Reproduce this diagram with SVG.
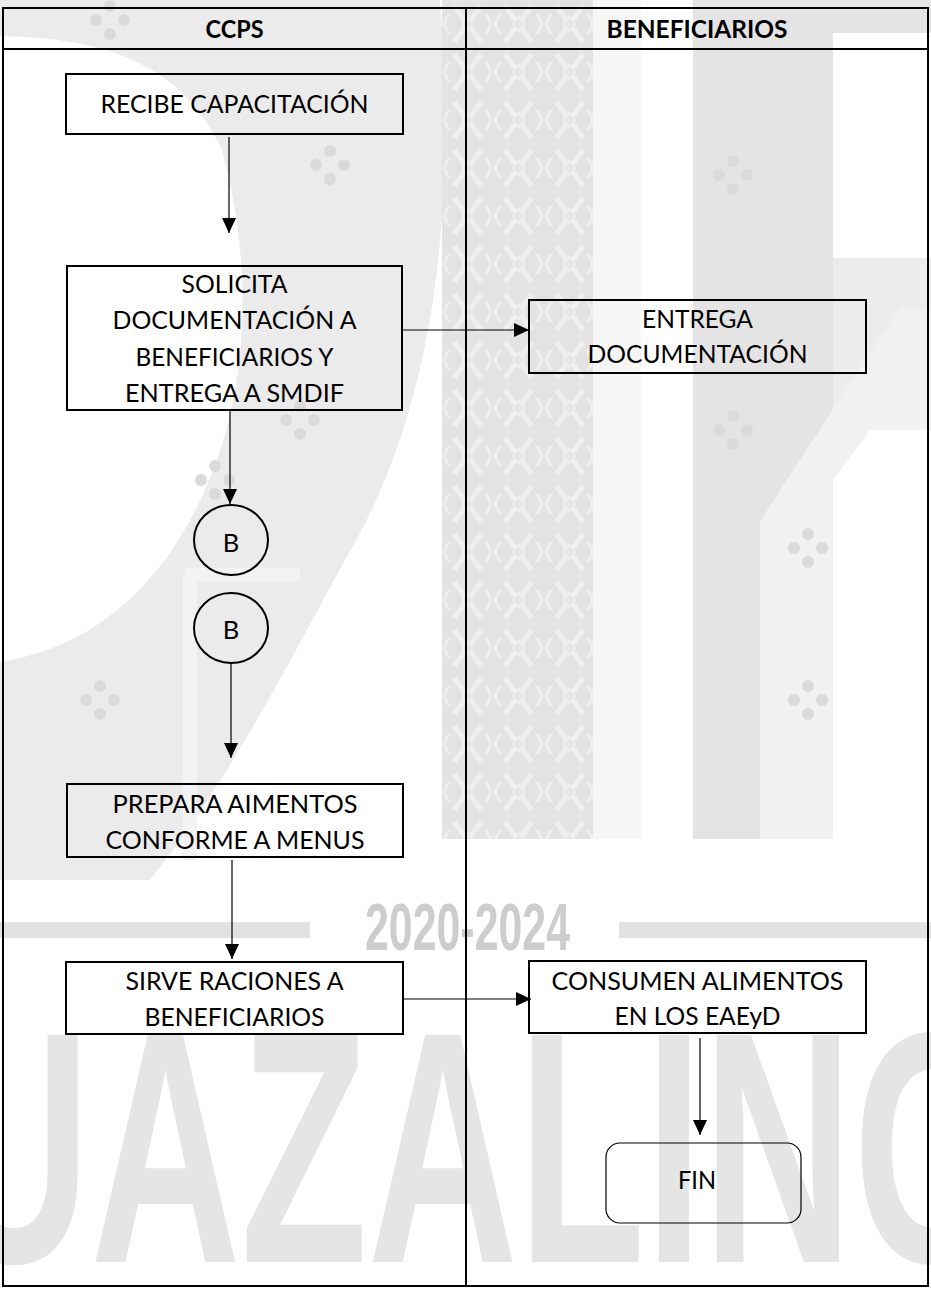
<svg xmlns="http://www.w3.org/2000/svg" width="931" height="1290" viewBox="0 0 931 1290">
<style>
.box{fill:none;stroke:#000;stroke-width:2}
.lbl{font-family:Lato,"Open Sans","Liberation Sans",sans-serif;font-size:25.5px;fill:#000;text-anchor:middle}
.hdr{font-family:Lato,"Open Sans","Liberation Sans",sans-serif;font-size:25px;font-weight:bold;fill:#000;text-anchor:middle}
.conn{stroke:#000;stroke-width:1.2;fill:none}
.wm{fill:#e6e6e6}
.dot{fill:#dadada}
</style>
<defs>
<marker id="ah" viewBox="0 0 15 14" refX="15" refY="7" markerWidth="15" markerHeight="14" markerUnits="userSpaceOnUse" orient="auto">
<path d="M0,0 L15,7 L0,14 Z" fill="#000"/>
</marker>
<pattern id="weave" x="442" y="0" width="51" height="48" patternUnits="userSpaceOnUse">
<rect width="51" height="48" fill="#e3e3e3"/>
<path d="M12,6 L39,42 M39,6 L12,42" stroke="#efefef" stroke-width="5" fill="none"/>
<path d="M25.5,17 L31,24 L25.5,31 L20,24 Z" fill="#e3e3e3" stroke="#efefef" stroke-width="2"/>
<path d="M7,14 L2,24 L7,34 M44,14 L49,24 L44,34" stroke="#efefef" stroke-width="3" fill="none"/>
</pattern>
<g id="dots4">
<circle cx="0" cy="-14" r="6"/><circle cx="-14" cy="0" r="6"/><circle cx="14" cy="0" r="6"/><circle cx="0" cy="14" r="6"/>
</g>
</defs>
<rect width="931" height="1290" fill="#fff"/>
<g id="watermark">
<path d="M0,0 L440,0 C455,200 440,400 345,560 C290,660 230,780 150,880 L0,880 Z" fill="#ebebeb"/>
<path d="M0,36 C100,38 180,60 222,150 C262,300 244,450 165,560 C115,625 60,652 0,662 Z" fill="#fff"/>
<path d="M185,575 L300,575 M190,575 L190,860" stroke="#f3f3f3" stroke-width="14" fill="none"/>
<g class="dot">
<use href="#dots4" x="330" y="165"/>
<use href="#dots4" x="300" y="420"/>
<use href="#dots4" x="215" y="480"/>
<use href="#dots4" x="100" y="700"/>
<use href="#dots4" x="110" y="20"/>
</g>
<rect x="442" y="0" width="151" height="839" fill="url(#weave)"/>
<rect x="593" y="0" width="48" height="839" fill="#f6f6f6"/>
<rect x="693" y="0" width="140" height="839" fill="#e4e4e4"/>
<rect x="833" y="0" width="98" height="33" fill="#e4e4e4"/>
<rect x="833" y="258" width="98" height="172" fill="#ececec"/>
<polygon points="760,521 900,307 931,307 931,430 870,430 833,480 833,839 760,839" fill="#f1f1f1"/>
<g class="dot">
<use href="#dots4" x="733" y="430"/>
<use href="#dots4" x="808" y="548"/>
<use href="#dots4" x="808" y="700"/>
<use href="#dots4" x="733" y="175"/>
</g>
<rect x="0" y="922" width="310" height="16" fill="#e2e2e2"/>
<rect x="619" y="922" width="312" height="16" fill="#e2e2e2"/>
<text x="365" y="950" font-family="Liberation Sans,Arial,sans-serif" font-weight="bold" font-size="66" fill="#cdcdcd" textLength="205" lengthAdjust="spacingAndGlyphs">2020-2024</text>
<text x="-60" y="1262" font-family="Liberation Sans,Arial,sans-serif" font-weight="bold" font-size="330" fill="#e5e5e5" textLength="1075" lengthAdjust="spacingAndGlyphs">UAZALING</text>
</g>
<g id="frame">
<rect x="3" y="8" width="925" height="1278" fill="none" stroke="#000" stroke-width="2"/>
<line x1="3" y1="49" x2="928" y2="49" stroke="#000" stroke-width="2"/>
<line x1="466" y1="8" x2="466" y2="1286" stroke="#000" stroke-width="2"/>
<text class="hdr" x="234.5" y="38" textLength="58" lengthAdjust="spacingAndGlyphs">CCPS</text>
<text class="hdr" x="697" y="38" textLength="181" lengthAdjust="spacingAndGlyphs">BENEFICIARIOS</text>
</g>
<g id="connectors">
<line class="conn" x1="229" y1="137" x2="229" y2="233" marker-end="url(#ah)"/>
<line class="conn" x1="230" y1="410" x2="230" y2="504" marker-end="url(#ah)"/>
<line class="conn" x1="231" y1="663" x2="231" y2="758" marker-end="url(#ah)"/>
<line class="conn" x1="232" y1="860" x2="232" y2="959" marker-end="url(#ah)"/>
<line class="conn" x1="402" y1="330" x2="529" y2="330" marker-end="url(#ah)"/>
<line class="conn" x1="403" y1="999" x2="531" y2="999" marker-end="url(#ah)"/>
<line class="conn" x1="700" y1="1038" x2="700" y2="1135" marker-end="url(#ah)"/>
</g>
<g id="recibe">
<rect class="box" x="66" y="74" width="337" height="60"/>
<text class="lbl" x="234.5" y="113" textLength="268" lengthAdjust="spacingAndGlyphs">RECIBE CAPACITACIÓN</text>
</g>
<g id="solicita">
<rect class="box" x="67" y="266" width="335" height="144"/>
<text class="lbl" x="234.5" y="293" textLength="106" lengthAdjust="spacingAndGlyphs">SOLICITA</text>
<text class="lbl" x="234.5" y="329" textLength="244" lengthAdjust="spacingAndGlyphs">DOCUMENTACIÓN A</text>
<text class="lbl" x="234.5" y="366" textLength="198" lengthAdjust="spacingAndGlyphs">BENEFICIARIOS Y</text>
<text class="lbl" x="234.5" y="402" textLength="219" lengthAdjust="spacingAndGlyphs">ENTREGA A SMDIF</text>
</g>
<g id="entrega">
<rect class="box" x="529" y="300" width="337" height="73"/>
<text class="lbl" x="697.5" y="328" textLength="111" lengthAdjust="spacingAndGlyphs">ENTREGA</text>
<text class="lbl" x="697.5" y="363" textLength="220" lengthAdjust="spacingAndGlyphs">DOCUMENTACIÓN</text>
</g>
<g id="conectorB1">
<ellipse cx="231" cy="540" rx="37" ry="35" fill="none" stroke="#000" stroke-width="2"/>
<text class="lbl" x="231" y="552">B</text>
</g>
<g id="conectorB2">
<ellipse cx="231" cy="628" rx="37" ry="35" fill="none" stroke="#000" stroke-width="2"/>
<text class="lbl" x="231" y="639">B</text>
</g>
<g id="prepara">
<rect class="box" x="67" y="784" width="336" height="73"/>
<text class="lbl" x="235" y="813" textLength="245" lengthAdjust="spacingAndGlyphs">PREPARA AIMENTOS</text>
<text class="lbl" x="235" y="849" textLength="259" lengthAdjust="spacingAndGlyphs">CONFORME A MENUS</text>
</g>
<g id="sirve">
<rect class="box" x="66" y="962" width="337" height="72"/>
<text class="lbl" x="234.5" y="990" textLength="218" lengthAdjust="spacingAndGlyphs">SIRVE RACIONES A</text>
<text class="lbl" x="234.5" y="1026" textLength="180" lengthAdjust="spacingAndGlyphs">BENEFICIARIOS</text>
</g>
<g id="consumen">
<rect class="box" x="529" y="961" width="337" height="72"/>
<text class="lbl" x="697.5" y="990" textLength="292" lengthAdjust="spacingAndGlyphs">CONSUMEN ALIMENTOS</text>
<text class="lbl" x="697.5" y="1025" textLength="166" lengthAdjust="spacingAndGlyphs">EN LOS EAEyD</text>
</g>
<g id="fin">
<rect x="606" y="1143" width="195" height="80" rx="14" fill="none" stroke="#000" stroke-width="1.2"/>
<text class="lbl" x="697" y="1189" textLength="38" lengthAdjust="spacingAndGlyphs">FIN</text>
</g>
</svg>
